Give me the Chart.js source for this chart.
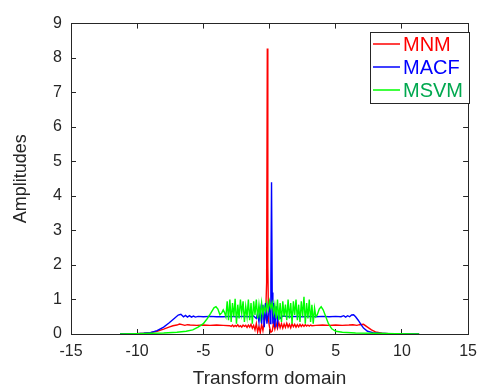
<!DOCTYPE html>
<html>
<head>
<meta charset="utf-8">
<script src="https://cdn.jsdelivr.net/npm/chart.js@4"></script>
<style>
  html, body { margin: 0; padding: 0; background: #fff; }
  #wrap { width: 490px; height: 390px; }
</style>
</head>
<body>
<div id="wrap"><canvas id="chart" width="490" height="390"></canvas></div>
<script>
// tick labels
const xTicks = [-15, -10, -5, 0, 5, 10, 15];
const yTicks = [0, 1, 2, 3, 4, 5, 6, 7, 8, 9];

// MNM (red)
const mnmX = [-11.3, -10.5, -10, -9.5, -9, -8.5, -8, -7.6, -7.3, -7, -6.8, -6.6, -6.4, -6.2, -6, -5.5, -5, -4.5, -4, -3.5, -3,
  -2.9, -2.8, -2.7, -2.6, -2.5, -2.4, -2.3, -2.2, -2.1, -2.0, -1.9, -1.8, -1.7, -1.6, -1.5, -1.4, -1.3, -1.2, -1.1, -1.0,
  -0.9, -0.8, -0.7, -0.6, -0.5, -0.4, -0.3, -0.22, -0.17, -0.13, -0.08, 0, 0.1,
  0.2, 0.3, 0.4, 0.5, 0.6, 0.7, 0.8, 0.9, 1.0, 1.1, 1.2, 1.3, 1.4, 1.5, 1.6, 1.7, 1.8, 1.9, 2.0, 2.1, 2.2, 2.3, 2.4,
  2.5, 2.6, 2.7, 2.8, 2.9, 3.0, 3.1, 3.2,
  3.5, 4, 4.5, 5, 5.5, 6, 6.3, 6.6, 6.8, 7.1, 7.4, 7.7, 8, 8.5, 9, 10, 11.3];
const mnmY = [0, 0.005, 0.01, 0.02, 0.04, 0.08, 0.14, 0.2, 0.24, 0.26, 0.29, 0.27, 0.25, 0.27, 0.26, 0.25, 0.26, 0.25, 0.26, 0.25, 0.24,
  0.22, 0.26, 0.21, 0.25, 0.22, 0.27, 0.21, 0.24, 0.2, 0.26, 0.22, 0.25, 0.19, 0.26, 0.2, 0.28, 0.17, 0.25, 0.12, 0.3,
  0.06, 0.22, 0.04, 0.28, 0.1, 0.35, 0.5, 1.5, 8.28, 2.0, 0.4, 0.2, 0.05,
  0.08, 0.32, 0.14, 0.3, 0.16, 0.33, 0.18, 0.3, 0.17, 0.29, 0.19, 0.31, 0.2, 0.28, 0.18, 0.3, 0.21, 0.28, 0.2, 0.27, 0.21, 0.28, 0.22,
  0.27, 0.22, 0.27, 0.23, 0.26, 0.23, 0.26, 0.24,
  0.25, 0.26, 0.25, 0.26, 0.25, 0.26, 0.27, 0.25, 0.27, 0.28, 0.2, 0.12, 0.06, 0.02, 0.01, 0.005, 0];

// MACF (blue)
const macfX = [-11.3, -10.5, -10, -9.5, -9, -8.5, -8, -7.6, -7.2, -6.9, -6.7, -6.5, -6.35, -6.2, -6.05, -5.9, -5.75, -5.6, -5.4, -5,
  -4.5, -4, -3.5, -3, -2.5, -2, -1.5, -1.2, -1.0, -0.9, -0.8, -0.7, -0.6, -0.5, -0.4, -0.3, -0.2, -0.1, 0, 0.05, 0.1, 0.15,
  0.2, 0.25, 0.3, 0.4, 0.5, 0.6, 0.7, 0.8, 1.0, 1.5, 2, 2.5, 3, 3.5, 4, 4.5, 5, 5.4, 5.6, 5.75, 5.9, 6.05, 6.2, 6.35,
  6.5, 6.7, 6.9, 7.1, 7.4, 7.8, 8.3, 9, 10, 11.3];
const macfY = [0, 0.005, 0.01, 0.02, 0.04, 0.1, 0.2, 0.32, 0.45, 0.55, 0.57, 0.5, 0.54, 0.49, 0.53, 0.49, 0.52, 0.49, 0.51, 0.5,
  0.51, 0.5, 0.5, 0.51, 0.5, 0.51, 0.5, 0.52, 0.45, 0.6, 0.35, 0.7, 0.3, 0.85, 0.2, 0.9, 0.3, 0.6, 0.9, 0.3, 1.5, 4.4,
  1.2, 0.3, 0.9, 0.2, 0.8, 0.3, 0.6, 0.45, 0.52, 0.5, 0.51, 0.5, 0.51, 0.5, 0.51, 0.5, 0.51, 0.5, 0.53, 0.49, 0.53, 0.5, 0.55, 0.56,
  0.5, 0.4, 0.28, 0.17, 0.08, 0.04, 0.02, 0.01, 0.005, 0];

// MSVM (green)
const msvmX = [-11.3, -10, -9, -8, -7, -6.3, -5.8, -5.4, -5.0, -4.7, -4.45, -4.2, -4.05, -3.9, -3.75, -3.6, -3.5, -3.4, -3.3,
  -3.2, -3.1, -3.0, -2.9, -2.8, -2.7, -2.6, -2.5, -2.4, -2.3, -2.2, -2.1, -2.0, -1.9, -1.8, -1.7, -1.6, -1.5, -1.4, -1.3,
  -1.2, -1.1, -1.0, -0.9, -0.8, -0.7, -0.6, -0.5, -0.4, -0.3, -0.2, -0.1, 0.0, 0.1, 0.2, 0.3, 0.4, 0.5, 0.6, 0.7, 0.8, 0.9,
  1.0, 1.1, 1.2, 1.3, 1.4, 1.5, 1.6, 1.7, 1.8, 1.9, 2.0, 2.1, 2.2, 2.3, 2.4, 2.5, 2.6, 2.7, 2.8, 2.9, 3.0, 3.1, 3.2, 3.3, 3.4,
  3.5, 3.6, 3.75, 3.9, 4.05, 4.25, 4.45, 4.7, 5.0, 5.5, 6.5, 8, 9.5, 11.3];
const msvmY = [0, 0.01, 0.02, 0.03, 0.05, 0.08, 0.12, 0.2, 0.3, 0.45, 0.6, 0.76, 0.79, 0.72, 0.56, 0.62, 0.7, 0.62, 0.5,
  0.95, 0.4, 1.0, 0.35, 0.9, 0.5, 1.02, 0.3, 0.85, 0.45, 1.0, 0.6, 0.95, 0.35, 0.8, 0.5, 1.0, 0.4, 0.9, 0.3,
  0.95, 0.55, 1.0, 0.45, 0.85, 0.5, 0.9, 0.55, 0.8, 0.65, 0.9, 0.7, 0.95, 0.75, 0.9, 0.6, 0.85, 0.45, 1.0, 0.4, 0.9, 0.35,
  0.95, 0.5, 0.85, 0.4, 1.0, 0.45, 0.9, 0.3, 0.95, 0.55, 1.0, 0.4, 0.85, 0.35, 0.95, 0.5, 1.08, 0.3, 0.9, 0.45, 1.0, 0.35, 0.85, 0.3, 0.75,
  0.5, 0.55, 0.72, 0.79, 0.7, 0.5, 0.3, 0.15, 0.08, 0.05, 0.03, 0.02, 0.01, 0];

const toPoints = (xs, ys) => xs.map((x, i) => ({ x: x, y: ys[i] }));

const axisColor = '#262626';
const font = 'Liberation Sans, Arial, Helvetica, sans-serif';

// tick marks pointing into the plot (negative length) and a solid axis line
const boxGrid = { display: true, drawOnChartArea: false, drawTicks: true, tickLength: -5, color: axisColor, lineWidth: 1 };
const boxBorder = { display: true, color: axisColor, width: 1 };

// legend in the upper right corner, text in the line colour
const legendPlugin = {
  id: 'boxLegend',
  afterDraw(chart) {
    const ctx = chart.ctx;
    const lx = 370, ly = 32, lw = 99, lh = 71;
    ctx.save();
    ctx.fillStyle = '#fff';
    ctx.fillRect(lx, ly, lw, lh);
    ctx.strokeStyle = axisColor;
    ctx.lineWidth = 1;
    ctx.strokeRect(lx + 0.5, ly + 0.5, lw, lh);
    ctx.font = '20px ' + font;
    ctx.textBaseline = 'middle';
    ctx.lineWidth = 1.5;
    chart.data.datasets.forEach((ds, i) => {
      const y = ly + 12 + i * 23;
      ctx.strokeStyle = ds.borderColor;
      ctx.beginPath();
      ctx.moveTo(lx + 3, y); ctx.lineTo(lx + 30, y);
      ctx.stroke();
      ctx.fillStyle = ds.textColor;
      ctx.fillText(ds.label, lx + 33, y + 1);
    });
    ctx.restore();
  }
};

new Chart(document.getElementById('chart'), {
  type: 'line',
  data: {
    datasets: [
      { label: 'MNM', data: toPoints(mnmX, mnmY), borderColor: '#ff0000', textColor: '#ff0000', order: 2 },
      { label: 'MACF', data: toPoints(macfX, macfY), borderColor: '#0000ff', textColor: '#0000ff', order: 1 },
      { label: 'MSVM', data: toPoints(msvmX, msvmY), borderColor: '#00ff00', textColor: '#00a84f', order: 0 }
    ]
  },
  options: {
    responsive: false,
    animation: false,
    layout: { padding: { top: 15, right: 17 } },
    elements: {
      line: { borderWidth: 1.4, tension: 0 },
      point: { radius: 0 }
    },
    plugins: {
      legend: { display: false },
      tooltip: { enabled: false }
    },
    scales: {
      x: {
        type: 'linear',
        position: 'bottom',
        min: -15, max: 15,
        afterBuildTicks: s => { s.ticks = xTicks.map(v => ({ value: v })); },
        afterFit: s => { s.height = 56; },
        grid: boxGrid,
        border: boxBorder,
        ticks: { color: axisColor, font: { family: font, size: 16 }, padding: 13, maxRotation: 0 },
        title: { display: true, text: 'Transform domain', color: axisColor, font: { family: font, size: 19 }, padding: { top: 2, bottom: 0 } }
      },
      xTop: {
        type: 'linear',
        position: 'top',
        min: -15, max: 15,
        afterBuildTicks: s => { s.ticks = xTicks.map(v => ({ value: v })); },
        afterFit: s => { s.height = 0; },
        grid: boxGrid,
        border: boxBorder,
        ticks: { display: false }
      },
      y: {
        position: 'left',
        min: 0, max: 9,
        afterBuildTicks: s => { s.ticks = yTicks.map(v => ({ value: v })); },
        afterFit: s => { s.width = 71; },
        grid: boxGrid,
        border: boxBorder,
        ticks: { color: axisColor, font: { family: font, size: 16 }, padding: 14 },
        title: { display: true, text: 'Amplitudes', color: axisColor, font: { family: font, size: 18 }, padding: { top: 10, bottom: 0 } }
      },
      yRight: {
        type: 'linear',
        position: 'right',
        min: 0, max: 9,
        afterBuildTicks: s => { s.ticks = yTicks.map(v => ({ value: v })); },
        afterFit: s => { s.width = 0; },
        grid: boxGrid,
        border: boxBorder,
        ticks: { display: false }
      }
    }
  },
  plugins: [legendPlugin]
});
</script>
</body>
</html>
